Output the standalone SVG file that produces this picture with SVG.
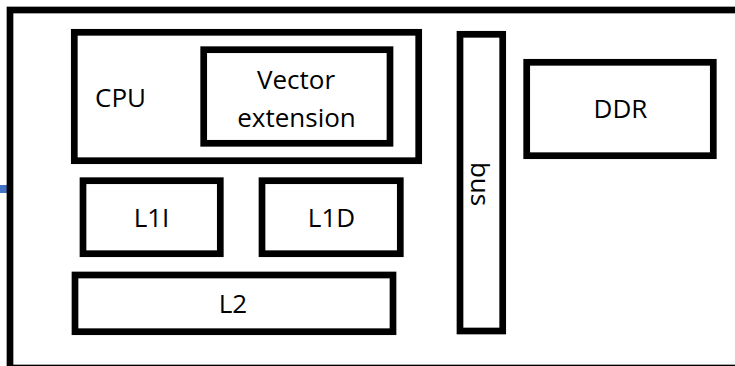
<svg xmlns="http://www.w3.org/2000/svg" width="735" height="366" viewBox="0 0 735 366">
<style>
.box{fill:#fff;stroke:#000;stroke-width:6.7}
.frame{fill:none;stroke:#000;stroke-width:6.7}
.t{font-family:"Open Sans","Liberation Sans",sans-serif;font-size:26px;fill:#000;text-anchor:middle}
</style>
<rect x="0" y="0" width="735" height="366" fill="#fff"/>
<g id="connectors">
<rect x="0" y="185" width="7" height="8" fill="#4472C4"/>
</g>
<g id="frame">
<rect class="frame" x="10" y="10" width="740" height="358"/>
</g>
<g id="cpu">
<rect class="box" x="74.3" y="32.3" width="344.4" height="128.4"/>
<text class="t" x="120.5" y="107.3">CPU</text>
</g>
<g id="vector">
<rect class="box" x="203.7" y="49.7" width="186.3" height="93.6"/>
<text class="t" x="296" y="89">Vector</text>
<text class="t" x="296.5" y="127">extension</text>
</g>
<g id="l1i">
<rect class="box" x="83" y="180.7" width="137.3" height="73"/>
<text class="t" x="151.5" y="227.3">L1I</text>
</g>
<g id="l1d">
<rect class="box" x="262" y="180.7" width="138.3" height="73"/>
<text class="t" x="331.5" y="227.3">L1D</text>
</g>
<g id="l2">
<rect class="box" x="75" y="275" width="318" height="56.7"/>
<text class="t" x="233" y="312.7">L2</text>
</g>
<g id="bus">
<rect class="box" x="460" y="34.3" width="42.7" height="296.7"/>
<text class="t" transform="translate(470.5,184) rotate(90)" x="0" y="0">bus</text>
</g>
<g id="ddr">
<rect class="box" x="526.7" y="62.3" width="186.6" height="93.4"/>
<text class="t" x="620.5" y="118.3">DDR</text>
</g>
</svg>
